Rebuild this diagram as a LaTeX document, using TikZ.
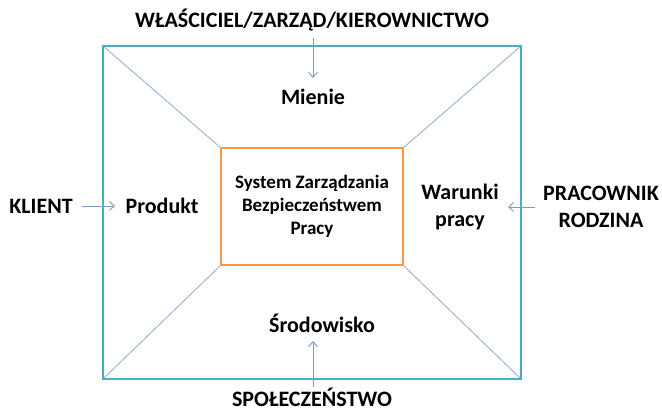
\documentclass[tikz,border=0pt]{standalone}
\usepackage{fontspec}
\setmainfont{Carlito}
\usetikzlibrary{arrows.meta}
\definecolor{outerc}{HTML}{4BACC6}
\definecolor{innerc}{HTML}{F79646}
\definecolor{diagc}{HTML}{8EAAD0}
\definecolor{arrc}{HTML}{7F9CC4}
\begin{document}
\begin{tikzpicture}[x=1pt,y=1pt,
  lbl/.style={font=\bfseries\fontsize{22}{27}\selectfont, align=center, inner sep=0pt},
  mid/.style={font=\bfseries\fontsize{19}{23}\selectfont, align=center, inner sep=0pt},
  arr/.style={draw=arrc, line width=0.9pt, -{Straight Barb[length=5pt,width=9pt]}},
  diag/.style={draw=diagc, line width=0.8pt}]
\useasboundingbox (0,0) rectangle (662,412);
% outer and inner frames
\coordinate (o1) at (103,366);
\coordinate (o2) at (521,366);
\coordinate (o3) at (521,33);
\coordinate (o4) at (103,33);
\coordinate (i1) at (221,264);
\coordinate (i2) at (403,264);
\coordinate (i3) at (403,147);
\coordinate (i4) at (221,147);
\draw[diag] (o1) -- (i1) (o2) -- (i2) (o3) -- (i3) (o4) -- (i4);
\draw[outerc, line width=2.6pt] (o1) rectangle (o3);
\draw[innerc, line width=2.6pt] (i1) rectangle (i3);
% texts
\node[mid] (sz) at (312,206) {System Zarządzania\\Bezpieczeństwem\\Pracy};
\node[lbl] (top) at (312,392) {WŁAŚCICIEL/ZARZĄD/KIEROWNICTWO};
\node[lbl] (mienie) at (313,315) {Mienie};
\node[lbl] (klient) at (41,206) {KLIENT};
\node[lbl] (produkt) at (162,206) {Produkt};
\node[lbl] (warunki) at (460,205) {Warunki\\pracy};
\node[lbl] (prac) at (601,205) {PRACOWNIK\\RODZINA};
\node[lbl] (srod) at (322,89) {Środowisko};
\node[lbl, anchor=base] (spol) at (312,5) {SPOŁECZEŃSTWO};
% arrows
\coordinate (a1s) at (313,374);
\coordinate (a1e) at (313,334);
\coordinate (a2s) at (82,206);
\coordinate (a2e) at (115,206);
\coordinate (a3s) at (535,205);
\coordinate (a3e) at (508,205);
\coordinate (a4s) at (313,25);
\coordinate (a4e) at (313,71);
\draw[arr] (a1s) -- (a1e);
\draw[arr] (a2s) -- (a2e);
\draw[arr] (a3s) -- (a3e);
\draw[arr] (a4s) -- (a4e);
\end{tikzpicture}
\end{document}
